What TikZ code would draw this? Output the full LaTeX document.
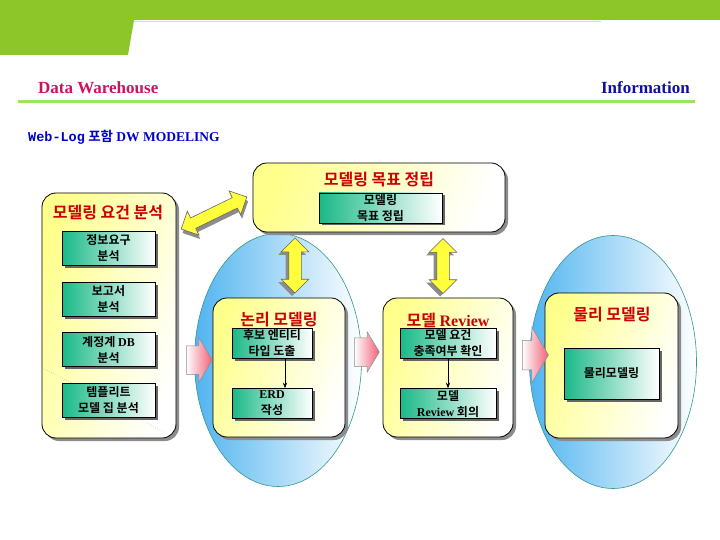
\documentclass[tikz,border=0pt]{standalone}
\usepackage{fontspec}
\setmainfont{Liberation Serif}
\setmonofont{Liberation Mono}
\newfontfamily\kr{Noto Sans CJK KR}[BoldFont={Noto Sans CJK KR Bold}]
\usetikzlibrary{arrows.meta, positioning, shapes.arrows, shapes.geometric, shadows}

\definecolor{bandgreen}{RGB}{140,198,40}
\definecolor{rulegreen}{RGB}{155,228,95}
\definecolor{dwred}{RGB}{208,16,96}
\definecolor{infoblue}{RGB}{16,16,160}
\definecolor{webblue}{RGB}{0,0,204}
\definecolor{titlered}{RGB}{204,0,0}
\definecolor{panelyellow}{RGB}{255,255,140}
\definecolor{itemgreen}{RGB}{25,185,135}
\definecolor{zoneblue}{RGB}{80,180,240}
\definecolor{zoneedge}{RGB}{50,150,140}
\definecolor{arrowpink}{RGB}{240,96,120}
\definecolor{arrowyellow}{RGB}{255,255,60}

\newcommand{\en}[1]{{\rmfamily #1}}

\begin{document}
\begin{tikzpicture}[x=1pt, y=-1pt, >={Stealth[]},
  panel/.style={draw, rounded corners=14pt, line width=0.8pt, left color=panelyellow, right color=white, shading angle=70,
    drop shadow={shadow xshift=3pt, shadow yshift=-3pt, fill=black!45, opacity=1}},
  paneltitle/.style={font=\kr\bfseries\fontsize{16}{18}\selectfont, text=titlered, inner sep=0},
  itembox/.style={draw, line width=0.6pt, left color=itemgreen, right color=white, align=center, inner sep=0,
    font=\kr\bfseries\fontsize{12}{16}\selectfont,
    drop shadow={shadow xshift=2.5pt, shadow yshift=-2.5pt, fill=black!60, opacity=1}},
  zone/.style={ellipse, draw=zoneedge, line width=0.6pt, left color=zoneblue, right color=white, minimum width=167, minimum height=253},
  pinkarrow/.style={single arrow, draw=black!45, line width=0.5pt, left color=white, right color=arrowpink,
    inner xsep=0, single arrow tip angle=118},
  yarrow/.style={double arrow, draw=black!60, line width=0.6pt, fill=arrowyellow, inner xsep=0, inner ysep=6pt,
    double arrow head extend=7.5pt}]
  \useasboundingbox (0,0) rectangle (720,540);

  % header band and headings
  \fill[bandgreen] (0,0) -- (720,0) -- (720,20) -- (134,20) -- (128,55) -- (0,55) -- cycle;
  \draw[rulegreen!60!white, line width=1pt] (134,21.5) -- (601,21.5);
  \draw[rulegreen, line width=3pt] (18,102) -- (695,102);
  \node[font=\bfseries\fontsize{17}{20}\selectfont, text=dwred, anchor=west, inner sep=0] (dw) at (38,88) {Data Warehouse};
  \node[font=\bfseries\fontsize{17}{20}\selectfont, text=infoblue, anchor=east, inner sep=0] (info) at (690,88) {Information};
  \node[font=\bfseries\fontsize{13.5}{16}\selectfont, text=webblue, anchor=west, inner sep=0] (heading) at (28,137)
    {{\ttfamily Web-Log} {\kr 포함} DW MODELING};

  % blue zones
  \node[zone] (zone1) at (278,360) {};
  \node[zone] (zone2) at (613,362) {};

  % modeling goal
  \node[panel, minimum width=252, minimum height=69] (goal) at (379,197.5) {};
  \node[paneltitle] (goaltitle) at (379,180) {모델링 목표 정립};
  \node[itembox, minimum width=123, minimum height=30] (goal1) at (380.5,208) {모델링\\목표 정립};

  % requirement analysis
  \node[panel, minimum width=134, minimum height=245] (req) at (109,315.5) {};
  \node[paneltitle] (reqtitle) at (108,213) {모델링 요건 분석};
  \draw[dotted, black!45] (43,368) -- (166,433);
  \node[itembox, minimum width=93, minimum height=34] (req1) at (108.5,248.5) {정보요구\\분석};
  \node[itembox, minimum width=93, minimum height=34, below=16pt of req1] (req2) {보고서\\분석};
  \node[itembox, minimum width=93, minimum height=34, below=16pt of req2] (req3) {계정계 \en{DB}\\분석};
  \node[itembox, minimum width=93, minimum height=34, below=16pt of req3] (req4) {템플리트\\모델 집 분석};

  % logical modeling
  \node[panel, minimum width=132, minimum height=139] (logic) at (279,367.5) {};
  \node[paneltitle] (logictitle) at (279,320) {논리 모델링};
  \node[itembox, minimum width=80, minimum height=30] (lg1) at (272,343) {후보 엔티티\\타입 도출};
  \node[itembox, minimum width=80, minimum height=30, below=30pt of lg1] (lg2) {\en{ERD}\\작성};
  \draw[->, line width=0.6pt] ([xshift=13pt]lg1.south) -- ([xshift=13pt]lg2.north);

  % model review
  \node[panel, minimum width=130, minimum height=139] (review) at (448,367.5) {};
  \node[paneltitle] (reviewtitle) at (448,320) {모델 \en{Review}};
  \node[itembox, minimum width=96, minimum height=30] (rv1) at (448,343) {모델 요건\\충족여부 확인};
  \node[itembox, minimum width=96, minimum height=30, below=30pt of rv1] (rv2) {모델\\\en{Review} 회의};
  \draw[->, line width=0.6pt] (rv1) -- (rv2);

  % physical modeling
  \node[panel, minimum width=133, minimum height=145] (phys) at (611.5,365.5) {};
  \node[paneltitle] (phystitle) at (612,315) {물리 모델링};
  \node[itembox, minimum width=95, minimum height=51] (ph1) at (611.5,373.5) {물리모델링};

  % block arrows
  \node[pinkarrow, minimum height=26, inner ysep=14pt, single arrow head extend=8pt] (flow1) at (195,360) {};
  \node[pinkarrow, minimum height=25, inner ysep=14pt, single arrow head extend=6pt] (flow2) at (362.5,352) {};
  \node[pinkarrow, minimum height=26, inner ysep=14.5pt, single arrow head extend=13pt] (flow3) at (531,355) {};
  \node[yarrow, minimum height=73, inner ysep=5.5pt, rotate=26,
    drop shadow={shadow xshift=1.4pt, shadow yshift=-4pt, fill=black!45, opacity=1}] (link0) at (214,213) {};
  \node[yarrow, minimum height=55, rotate=90,
    drop shadow={shadow xshift=-3pt, shadow yshift=-3pt, fill=black!45, opacity=1}] (link1) at (295,265.5) {};
  \node[yarrow, minimum height=55, rotate=90,
    drop shadow={shadow xshift=-3pt, shadow yshift=-3pt, fill=black!45, opacity=1}] (link2) at (443,266) {};
\end{tikzpicture}
\end{document}
